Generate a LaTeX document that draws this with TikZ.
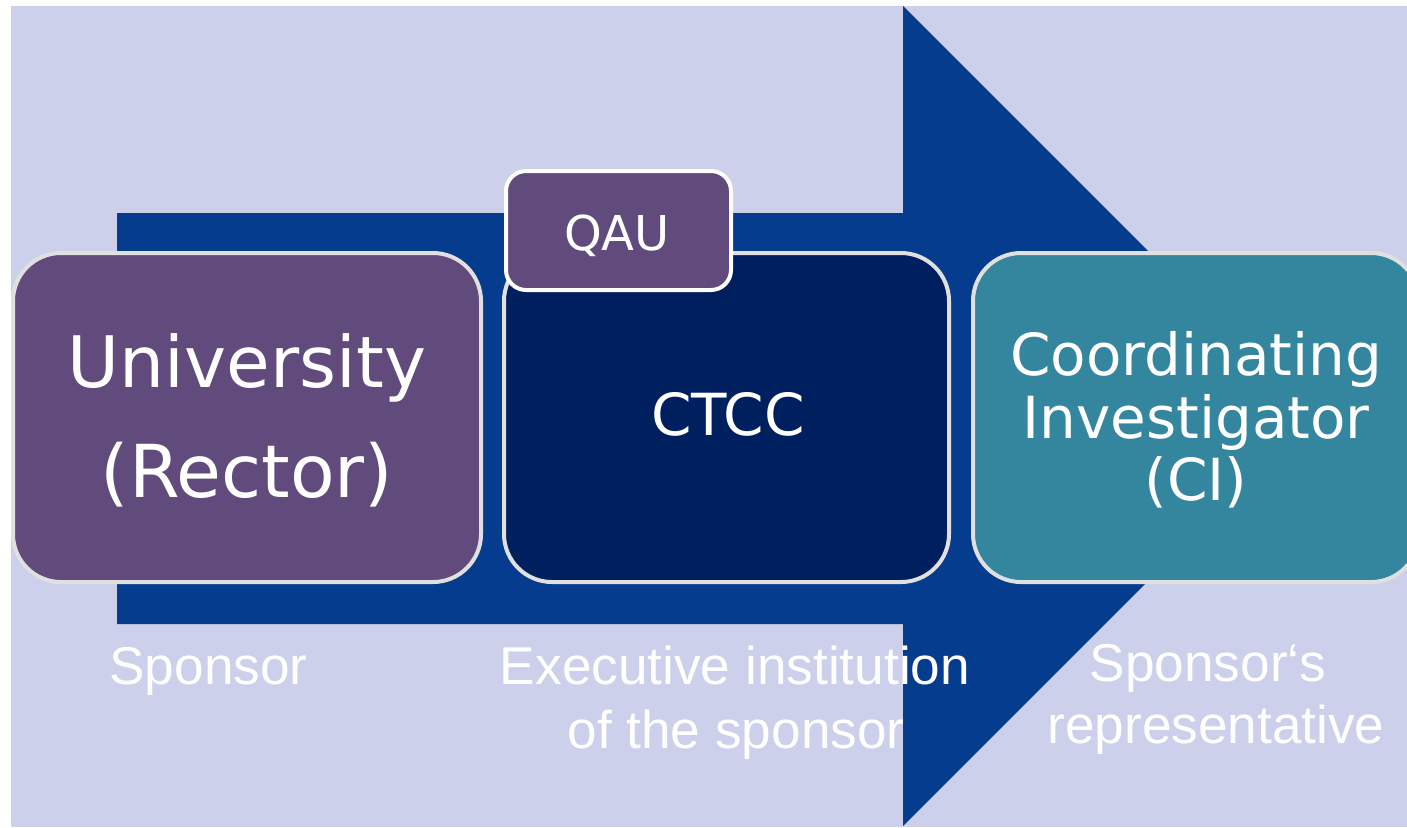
\documentclass[tikz,border=0pt]{standalone}
\usepackage{fontspec}
\setmainfont{DejaVu Sans}
\newfontfamily\labelfont{Liberation Sans}
\definecolor{bgc}{HTML}{CCD0EA}
\definecolor{arrowc}{HTML}{053C8D}
\definecolor{purplec}{HTML}{614B7C}
\definecolor{navyc}{HTML}{001F5F}
\definecolor{tealc}{HTML}{33869E}
\definecolor{edgec}{HTML}{E0E0E0}
\tikzset{
  bigbox/.style={draw=edgec, line width=2pt, rounded corners=24pt, inner sep=0pt},
  qaubox/.style={draw=white, line width=2pt, rounded corners=10pt, inner sep=0pt, fill=purplec,
    minimum width=112.5pt, minimum height=59.5pt},
  boxtext/.style={text=white, inner sep=0pt, anchor=base},
  labeltext/.style={text=white, inner sep=0pt, anchor=base, font=\labelfont\fontsize{26.6}{31}\selectfont},
}
\begin{document}
\begin{tikzpicture}[x=0.5pt, y=-0.5pt]
\useasboundingbox (0,0) rectangle (1407,827);
\fill[bgc] (11,6) rectangle (1407,827);
% big arrow
\fill[arrowc] (117,213) -- (903,213) -- (903,6) -- (1313,416) -- (903,826) -- (903,624) -- (117,624) -- cycle;
% boxes
\node[bigbox, fill=purplec, minimum width=234pt, minimum height=164.5pt] (univ) at (247,417.5) {};
\node[bigbox, fill=navyc, minimum width=222.5pt, minimum height=164.5pt] (ctcc) at (726.5,417.5) {};
\node[bigbox, fill=tealc, minimum width=223pt, minimum height=164.5pt] (ci) at (1196,417.5) {};
\node[qaubox] (qau) at (618.5,230.5) {};
% box texts
\node[boxtext, font=\fontsize{35.5}{42}\selectfont] (univ1) at (247,387) {University};
\node[boxtext, font=\fontsize{36.5}{42}\selectfont] (univ2) at (247,497) {(Rector)};
\node[boxtext, font=\fontsize{29}{35}\selectfont] (ctcc1) at (728,435) {CTCC};
\node[boxtext, font=\fontsize{29}{35}\selectfont] (ci1) at (1196,375) {Coordinating};
\node[boxtext, font=\fontsize{29}{35}\selectfont] (ci2) at (1196,438) {Investigator};
\node[boxtext, font=\fontsize{29}{35}\selectfont] (ci3) at (1196,500) {(CI)};
\node[boxtext, font=\fontsize{24}{29}\selectfont] (qau1) at (617,250) {QAU};
% labels
\node[labeltext] (lab1) at (208.5,684) {Sponsor};
\node[labeltext] (lab2a) at (735,684) {Executive institution};
\node[labeltext] (lab2b) at (736,748) {of the sponsor};
\node[labeltext] (lab3a) at (1208,681) {Sponsor‘s};
\node[labeltext] (lab3b) at (1216,743) {representative};
\end{tikzpicture}
\end{document}
